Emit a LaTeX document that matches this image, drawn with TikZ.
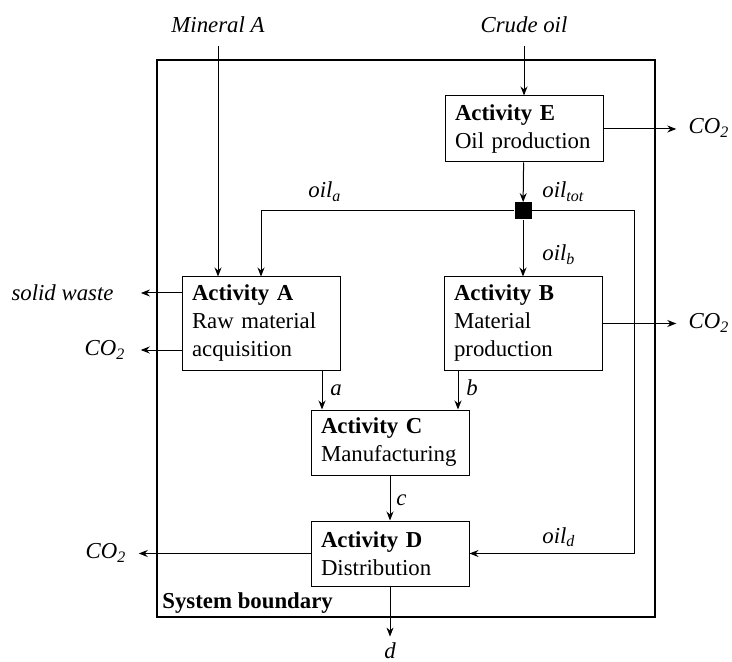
\documentclass[tikz,border=0pt]{standalone}
\usepackage{fontspec}
\setmainfont{Liberation Serif}
\usetikzlibrary{arrows.meta}
\newcommand{\txtsize}{\fontsize{11.4}{14}\selectfont}
\tikzset{activity/.style={draw, line width=0.5pt, align=left, text width=69pt,
        inner xsep=5pt, font=\txtsize},
    flow/.style={font=\txtsize\itshape, inner sep=6pt},
    flowlabel/.style={font=\txtsize\itshape, inner sep=0pt, anchor=base west},
    junction/.style={fill=black, inner sep=0pt, minimum size=8.5pt},
    arr/.style={-{Stealth[length=4.5pt,width=3.5pt]}, line width=0.5pt},
    boundary/.style={draw, line width=1pt}}

\begin{document}
\begin{tikzpicture}[x=0.5pt, y=-0.5pt]
    \useasboundingbox (0,0) rectangle (732,662);
    % system boundary
    \draw[boundary] (157,60) rectangle (655,617);
    \node[font=\txtsize\bfseries, inner sep=0pt, anchor=base west] (sysb) at (162,608) {System boundary};

    % activities
    \node[activity, minimum height=33pt]   (E) at (524,129)   {\textbf{Activity E}\\Oil production};
    \node[activity, minimum height=46.5pt] (A) at (261,323.5) {\textbf{Activity A}\\Raw material\\acquisition};
    \node[activity, minimum height=46.5pt] (B) at (523,323.5) {\textbf{Activity B}\\Material\\production};
    \node[activity, minimum height=32.5pt] (C) at (390,442.5) {\textbf{Activity C}\\Manufacturing};
    \node[activity, minimum height=32.5pt] (D) at (390,553.5) {\textbf{Activity D}\\Distribution};
    \node[junction] (split) at (523,211) {};
    \coordinate (loop) at (634,211);

    % inputs and outputs
    \node[flow, anchor=base] (mineral) at (218,33) {Mineral A};
    \node[flow, anchor=base] (crude)   at (524,33) {Crude oil};
    \node[flow, inner xsep=13.5pt] (waste) at (62.5,293) {solid waste};
    \node[flow, inner xsep=7.5pt]  (co2a)  at (105,350) {CO\textsubscript{2}};
    \node[flow] (co2e) at (709,128) {CO\textsubscript{2}};
    \node[flow] (co2b) at (709,323) {CO\textsubscript{2}};
    \node[flow] (co2d) at (106,553) {CO\textsubscript{2}};
    \node[flow, inner sep=3pt] (dout) at (390,651) {d};

    \draw[arr] (mineral) -- (mineral |- A.north);
    \draw[arr] (crude) -- (E);
    \draw[arr] (waste -| A.west) -- (waste.east);
    \draw[arr] (co2a -| A.west) -- (co2a.east);
    \draw[arr] (E) -- (E -| co2e.west);
    \draw[arr] (B) -- (B -| co2b.west);
    \draw[arr] (D) -- (D -| co2d.east);

    % oil distribution
    \draw[arr] (E) -- (split);
    \draw[arr] (split) -- (B);
    \draw[arr] (split) -| (A);
    \draw[arr] (split) -- (loop) |- (D);

    % product flow
    \draw[arr] ([xshift=30.5pt]A.south) -- ([xshift=30.5pt]A.south |- C.north);
    \draw[arr] ([xshift=-32.5pt]B.south) -- ([xshift=-32.5pt]B.south |- C.north);
    \draw[arr] (C) -- (D);
    \draw[arr] (D) -- (dout);

    % flow labels
    \node[flowlabel] (ltot) at (542,198) {oil\textsubscript{tot}};
    \node[flowlabel] (la)   at (308,198) {oil\textsubscript{a}};
    \node[flowlabel] (lb)   at (542,261) {oil\textsubscript{b}};
    \node[flowlabel] (ld)   at (542,543) {oil\textsubscript{d}};
    \node[flowlabel] (lpa)  at (330,395) {a};
    \node[flowlabel] (lpb)  at (466,395) {b};
    \node[flowlabel] (lpc)  at (396,505) {c};
\end{tikzpicture}
\end{document}
